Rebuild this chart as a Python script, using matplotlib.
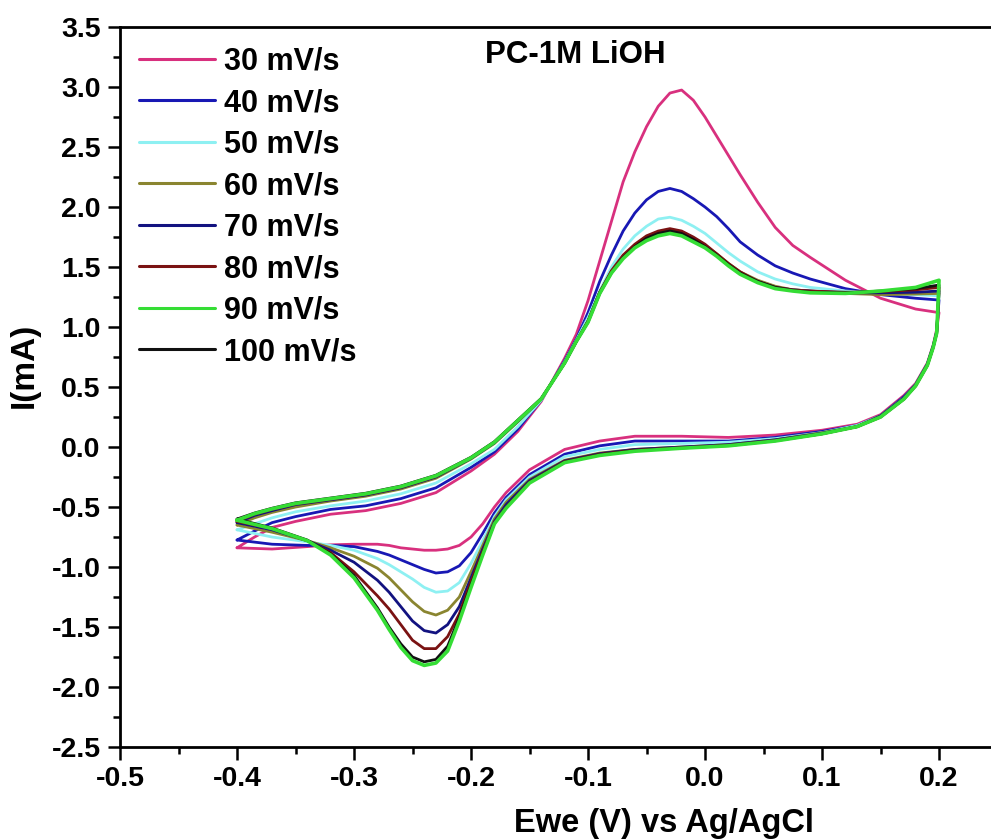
import numpy as np
import matplotlib
matplotlib.use("Agg")
import matplotlib.pyplot as plt
from matplotlib.ticker import AutoMinorLocator

plt.rcParams['font.family'] = ['Liberation Sans', 'DejaVu Sans']
plt.rcParams['font.weight'] = 'bold'
plt.rcParams['axes.unicode_minus'] = False

# ---- data ----
LABELS = ['30 mV/s', '40 mV/s', '50 mV/s', '60 mV/s', '70 mV/s', '80 mV/s', '90 mV/s', '100 mV/s']
COLORS = ['#D8307E', '#1818B4', '#8EF0F2', '#8A8530', '#121280', '#7A1212', '#35DD35', '#111111']

# forward (anodic) scan, -0.4 V -> 0.2 V
U_X = [-0.400, -0.385, -0.370, -0.350, -0.320, -0.290, -0.260, -0.230, -0.200, -0.180,
       -0.160, -0.140, -0.120, -0.110, -0.100, -0.090, -0.080, -0.070, -0.060, -0.050,
       -0.040, -0.030, -0.020, -0.010, 0.000, 0.010, 0.020, 0.030, 0.045, 0.060,
       0.075, 0.090, 0.120, 0.150, 0.180, 0.200]

up_30 = [-0.84, -0.75, -0.67, -0.62, -0.56, -0.53, -0.47, -0.38, -0.20, -0.06,
         0.13, 0.38, 0.74, 0.94, 1.22, 1.55, 1.88, 2.21, 2.46, 2.67,
         2.84, 2.95, 2.975, 2.89, 2.75, 2.59, 2.43, 2.27, 2.04, 1.83,
         1.68, 1.58, 1.39, 1.24, 1.15, 1.12]
up_40 = [-0.775, -0.70, -0.63, -0.58, -0.52, -0.49, -0.43, -0.34, -0.17, -0.04,
         0.15, 0.39, 0.72, 0.90, 1.12, 1.38, 1.60, 1.80, 1.95, 2.06,
         2.13, 2.155, 2.13, 2.07, 2.00, 1.92, 1.82, 1.71, 1.60, 1.51,
         1.45, 1.40, 1.32, 1.27, 1.24, 1.225]
up_50 = [-0.69, -0.64, -0.59, -0.54, -0.49, -0.45, -0.39, -0.30, -0.14, -0.02,
         0.17, 0.39, 0.71, 0.89, 1.08, 1.30, 1.50, 1.65, 1.76, 1.84,
         1.90, 1.915, 1.89, 1.84, 1.78, 1.70, 1.62, 1.55, 1.46, 1.40,
         1.36, 1.33, 1.30, 1.28, 1.27, 1.26]
up_60 = [-0.65, -0.59, -0.545, -0.50, -0.45, -0.41, -0.35, -0.26, -0.10, 0.03,
         0.21, 0.40, 0.70, 0.88, 1.05, 1.29, 1.46, 1.59, 1.68, 1.75,
         1.79, 1.81, 1.79, 1.74, 1.68, 1.61, 1.53, 1.46, 1.39, 1.34,
         1.31, 1.30, 1.28, 1.27, 1.275, 1.28]
up_70 = [-0.63, -0.57, -0.53, -0.48, -0.44, -0.40, -0.34, -0.25, -0.095, 0.035,
         0.215, 0.40, 0.70, 0.88, 1.05, 1.29, 1.46, 1.58, 1.67, 1.74,
         1.78, 1.80, 1.78, 1.73, 1.67, 1.60, 1.52, 1.45, 1.38, 1.33,
         1.31, 1.30, 1.285, 1.285, 1.29, 1.30]
up_80 = [-0.62, -0.56, -0.52, -0.475, -0.435, -0.395, -0.335, -0.245, -0.09, 0.04,
         0.22, 0.40, 0.70, 0.88, 1.05, 1.29, 1.47, 1.60, 1.69, 1.76,
         1.80, 1.82, 1.80, 1.75, 1.69, 1.61, 1.53, 1.46, 1.38, 1.33,
         1.31, 1.30, 1.29, 1.295, 1.31, 1.33]
up_90 = [-0.61, -0.555, -0.515, -0.47, -0.43, -0.39, -0.33, -0.24, -0.09, 0.04,
         0.22, 0.40, 0.70, 0.88, 1.04, 1.28, 1.45, 1.57, 1.66, 1.72,
         1.76, 1.78, 1.76, 1.71, 1.66, 1.59, 1.51, 1.44, 1.37, 1.32,
         1.30, 1.285, 1.28, 1.30, 1.33, 1.39]
up_100 = [-0.60, -0.55, -0.51, -0.465, -0.425, -0.385, -0.325, -0.235, -0.085, 0.045,
          0.225, 0.405, 0.70, 0.88, 1.04, 1.28, 1.45, 1.58, 1.67, 1.74,
          1.78, 1.80, 1.78, 1.73, 1.67, 1.60, 1.52, 1.45, 1.38, 1.33,
          1.305, 1.29, 1.285, 1.30, 1.32, 1.35]

# reverse (cathodic) scan, 0.2 V -> -0.4 V
L_X = [0.200, 0.198, 0.195, 0.190, 0.180, 0.170, 0.150, 0.130, 0.100, 0.060,
       0.020, -0.020, -0.060, -0.090, -0.120, -0.150, -0.170, -0.180, -0.190, -0.200,
       -0.210, -0.220, -0.230, -0.240, -0.250, -0.260, -0.270, -0.280, -0.300, -0.320,
       -0.340, -0.370, -0.400]

lo_30 = [1.12, 0.98, 0.85, 0.70, 0.53, 0.43, 0.27, 0.19, 0.14, 0.10,
         0.08, 0.09, 0.09, 0.05, -0.02, -0.19, -0.38, -0.50, -0.64, -0.75,
         -0.82, -0.85, -0.86, -0.86, -0.85, -0.84, -0.82, -0.81, -0.81, -0.815,
         -0.83, -0.85, -0.84]
lo_40 = [1.225, 0.96, 0.84, 0.69, 0.52, 0.42, 0.26, 0.18, 0.13, 0.08,
         0.05, 0.05, 0.05, 0.01, -0.06, -0.23, -0.42, -0.55, -0.72, -0.88,
         -0.99, -1.04, -1.05, -1.02, -0.98, -0.94, -0.90, -0.87, -0.83, -0.82,
         -0.82, -0.81, -0.775]
lo_50 = [1.26, 0.96, 0.84, 0.69, 0.52, 0.41, 0.26, 0.18, 0.12, 0.07,
         0.04, 0.03, 0.02, -0.02, -0.08, -0.25, -0.44, -0.58, -0.78, -0.97,
         -1.13, -1.20, -1.21, -1.17, -1.10, -1.04, -0.98, -0.93, -0.86, -0.82,
         -0.79, -0.75, -0.69]
lo_60 = [1.28, 0.96, 0.84, 0.69, 0.52, 0.41, 0.26, 0.17, 0.12, 0.06,
         0.02, 0.00, -0.02, -0.05, -0.11, -0.27, -0.46, -0.60, -0.82, -1.04,
         -1.25, -1.36, -1.40, -1.37, -1.29, -1.19, -1.09, -1.01, -0.91, -0.84,
         -0.78, -0.71, -0.65]
lo_70 = [1.30, 0.96, 0.84, 0.69, 0.52, 0.41, 0.26, 0.17, 0.115, 0.06,
         0.02, 0.00, -0.02, -0.055, -0.115, -0.28, -0.48, -0.62, -0.85, -1.09,
         -1.33, -1.48, -1.55, -1.53, -1.45, -1.33, -1.21, -1.11, -0.96, -0.86,
         -0.78, -0.69, -0.63]
lo_80 = [1.33, 0.95, 0.83, 0.68, 0.51, 0.40, 0.25, 0.17, 0.11, 0.055,
         0.015, -0.005, -0.025, -0.06, -0.12, -0.29, -0.50, -0.63, -0.87, -1.12,
         -1.39, -1.58, -1.68, -1.68, -1.61, -1.48, -1.35, -1.24, -1.04, -0.88,
         -0.78, -0.68, -0.62]
lo_90 = [1.39, 0.95, 0.83, 0.68, 0.51, 0.40, 0.25, 0.17, 0.11, 0.05,
         0.01, -0.01, -0.035, -0.07, -0.13, -0.30, -0.51, -0.64, -0.90, -1.17,
         -1.45, -1.70, -1.80, -1.82, -1.78, -1.67, -1.52, -1.36, -1.09, -0.90,
         -0.78, -0.68, -0.61]
lo_100 = [1.35, 0.95, 0.83, 0.68, 0.51, 0.40, 0.25, 0.17, 0.11, 0.052,
          0.012, -0.008, -0.03, -0.065, -0.125, -0.295, -0.505, -0.635, -0.89, -1.15,
          -1.42, -1.66, -1.77, -1.79, -1.75, -1.64, -1.50, -1.34, -1.07, -0.89,
          -0.775, -0.675, -0.60]

UPPER = [up_30, up_40, up_50, up_60, up_70, up_80, up_90, up_100]
LOWER = [lo_30, lo_40, lo_50, lo_60, lo_70, lo_80, lo_90, lo_100]

X_TICKS = [-0.5, -0.4, -0.3, -0.2, -0.1, 0.0, 0.1, 0.2]
X_TICK_LABELS = ['-0.5', '-0.4', '-0.3', '-0.2', '-0.1', '0.0', '0.1', '0.2']
Y_TICKS = [-2.5, -2.0, -1.5, -1.0, -0.5, 0.0, 0.5, 1.0, 1.5, 2.0, 2.5, 3.0, 3.5]
Y_TICK_LABELS = ['-2.5', '-2.0', '-1.5', '-1.0', '-0.5', '0.0', '0.5', '1.0', '1.5',
                 '2.0', '2.5', '3.0', '3.5']

# ---- figure ----
fig = plt.figure(figsize=(9.91, 8.4), dpi=100)
ax = fig.add_axes([0.1211, 0.1107, 0.8855, 0.8571])

zorders = [3, 3, 3, 3, 3, 3, 5, 4]
widths = [2.0, 2.0, 2.0, 2.0, 2.0, 2.0, 2.6, 2.0]
for lab, col, up, lo, z, w in zip(LABELS, COLORS, UPPER, LOWER, zorders, widths):
    xs = list(U_X) + list(L_X[1:])
    ys = list(up) + list(lo[1:])
    ax.plot(xs, ys, color=col, lw=w, label=lab, zorder=z,
            solid_joinstyle='round', solid_capstyle='round')

ax.set_xlim(-0.5, 0.25)
ax.set_ylim(-2.5, 3.5)
ax.set_xticks(X_TICKS)
ax.set_xticklabels(X_TICK_LABELS)
ax.set_yticks(Y_TICKS)
ax.set_yticklabels(Y_TICK_LABELS)
ax.xaxis.set_minor_locator(AutoMinorLocator(2))
ax.yaxis.set_minor_locator(AutoMinorLocator(2))
ax.tick_params(which='major', direction='out', length=9, width=1.8, labelsize=20.5, pad=5)
ax.tick_params(which='minor', direction='out', length=5, width=1.8)
ax.tick_params(top=False, right=False)
for s in ax.spines.values():
    s.set_linewidth(2.0)

ax.set_xlabel('Ewe (V) vs Ag/AgCl', fontsize=23.5, fontweight='bold')
ax.xaxis.set_label_coords(0.62, -0.085)
ax.set_ylabel('I(mA)', fontsize=24, fontweight='bold')
ax.yaxis.set_label_coords(-0.092, 0.53)

ax.text(0.5185, 0.961, 'PC-1M LiOH', transform=ax.transAxes, ha='center', va='center',
        fontsize=22.5, fontweight='bold')

leg = ax.legend(loc='upper left', bbox_to_anchor=(0.022, 0.973), frameon=False,
                fontsize=22, handlelength=2.48, handletextpad=0.3, labelspacing=0.377,
                borderpad=0, borderaxespad=0)
for ln in leg.get_lines():
    ln.set_linewidth(2.2)

fig.savefig('out.png', dpi=100)
